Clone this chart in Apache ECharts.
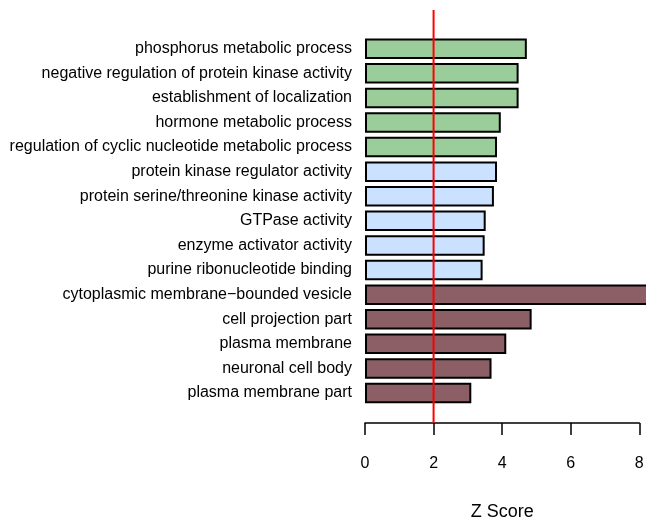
<!DOCTYPE html>
<html>
<head>
<meta charset="utf-8">
<script src="https://cdn.jsdelivr.net/npm/echarts@6/dist/echarts.min.js"></script>
<style>
html,body{margin:0;padding:0;background:#fff;}
#chart{width:646px;height:520px;}
</style>
</head>
<body>
<div id="chart"></div>
<script>
var categories = [
  "phosphorus metabolic process",
  "negative regulation of protein kinase activity",
  "establishment of localization",
  "hormone metabolic process",
  "regulation of cyclic nucleotide metabolic process",
  "protein kinase regulator activity",
  "protein serine/threonine kinase activity",
  "GTPase activity",
  "enzyme activator activity",
  "purine ribonucleotide binding",
  "cytoplasmic membrane\u2212bounded vesicle",
  "cell projection part",
  "plasma membrane",
  "neuronal cell body",
  "plasma membrane part"
];
var zScores = [4.72, 4.48, 4.48, 3.96, 3.85, 3.85, 3.76, 3.52, 3.49, 3.43, 8.60, 4.86, 4.12, 3.69, 3.10];
var groups = ["BP","BP","BP","BP","BP","MF","MF","MF","MF","MF","CC","CC","CC","CC","CC"];
var groupColors = { BP: "#9BCD9B", MF: "#CAE1FF", CC: "#8B5F65" };
var xTicks = [0, 2, 4, 6, 8];
var threshold = 2;

var chart = echarts.init(document.getElementById('chart'));
var font = 'Liberation Sans, Arial, Helvetica, sans-serif';
var option = {
  animation: false,
  backgroundColor: '#fff',
  grid: [
    { left: 365, right: 6.7, top: 36.4, height: 368.9, outerBoundsMode: 'none', containLabel: false },
    { left: 365, right: 6.7, top: 10, height: 413, outerBoundsMode: 'none', containLabel: false }
  ],
  xAxis: [
    { gridIndex: 0, type: 'value', min: xTicks[0], max: xTicks[xTicks.length-1], show: false },
    { gridIndex: 1, type: 'value', min: xTicks[0], max: xTicks[xTicks.length-1], interval: 2,
      axisLine: { show: true, lineStyle: { color: '#000', width: 1.5 } },
      axisTick: { show: true, length: 12, lineStyle: { color: '#000', width: 1.5 } },
      axisLabel: { margin: 33, fontSize: 16, color: '#000', fontFamily: font },
      splitLine: { show: false },
      name: 'Z Score', nameLocation: 'middle', nameGap: 80,
      nameTextStyle: { fontSize: 18, color: '#000', fontFamily: font }
    }
  ],
  yAxis: [
    { gridIndex: 0, type: 'category', inverse: true, data: categories,
      axisLine: { show: false }, axisTick: { show: false },
      axisLabel: { margin: 13, fontSize: 16, color: '#000', fontFamily: font },
      splitLine: { show: false }
    },
    { gridIndex: 1, type: 'value', min: 0, max: 1, show: false }
  ],
  series: [
    { type: 'bar', xAxisIndex: 0, yAxisIndex: 0, barWidth: 20.5, clip: false,
      data: zScores.map(function(v, i){
        return { value: v, itemStyle: { color: groupColors[groups[i]] } };
      }),
      itemStyle: { borderColor: '#000', borderWidth: 2 }
    },
    { type: 'line', xAxisIndex: 1, yAxisIndex: 1, symbol: 'none', z: 5,
      data: [[threshold, 0], [threshold, 1]],
      lineStyle: { color: '#FF0000', width: 2 }
    }
  ]
};
chart.setOption(option);
</script>
</body>
</html>
